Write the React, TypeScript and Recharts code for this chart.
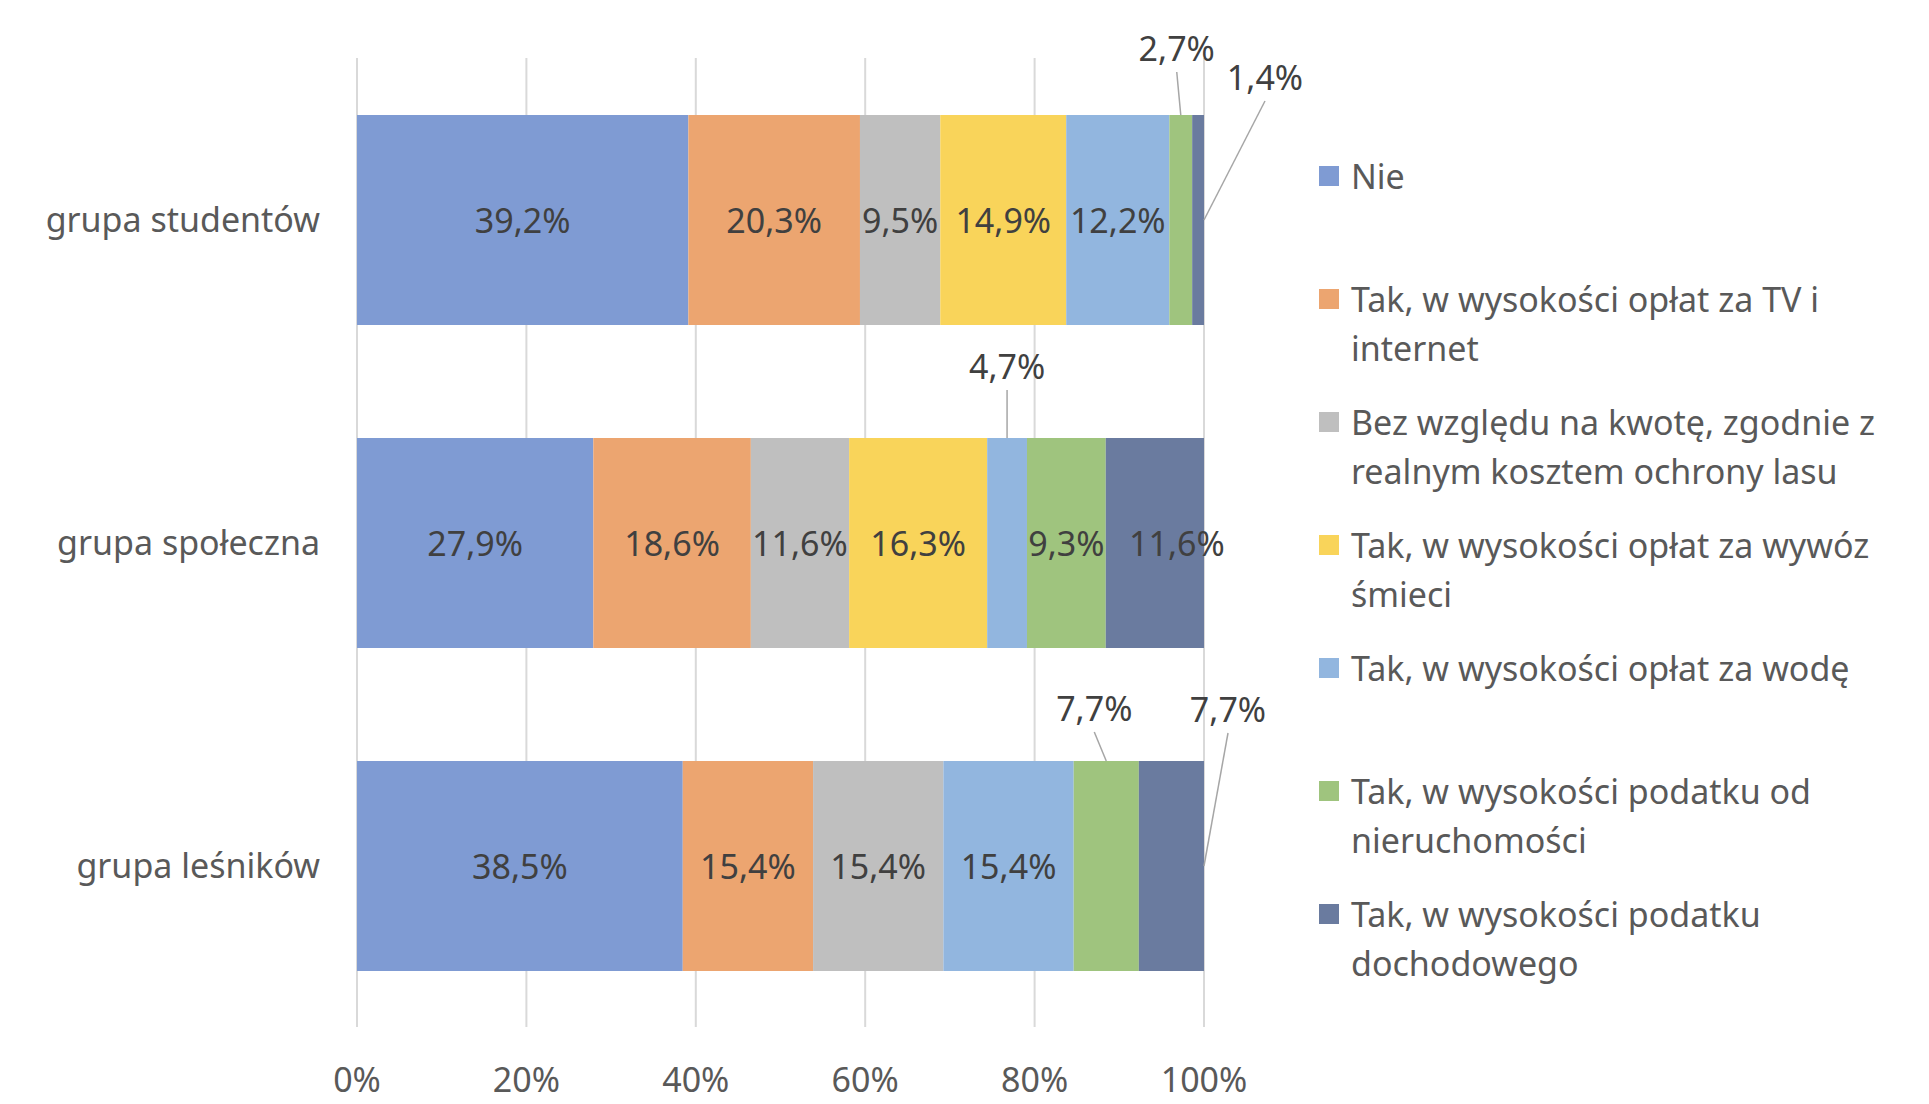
import { BarChart, Bar, XAxis, YAxis, CartesianGrid, LabelList, Legend } from 'recharts';

const groups = ['grupa studentów', 'grupa społeczna', 'grupa leśników'];

const seriesNames = [
  'Nie',
  'Tak, w wysokości opłat za TV i internet',
  'Bez względu na kwotę, zgodnie z realnym kosztem ochrony lasu',
  'Tak, w wysokości opłat za wywóz śmieci',
  'Tak, w wysokości opłat za wodę',
  'Tak, w wysokości podatku od nieruchomości',
  'Tak, w wysokości podatku dochodowego',
];

// values in %, per group (studenci, społeczna, leśnicy)
const nie = [39.2, 27.9, 38.5];
const tvInternet = [20.3, 18.6, 15.4];
const bezWzgledu = [9.5, 11.6, 15.4];
const wywozSmieci = [14.9, 16.3, 0];
const woda = [12.2, 4.7, 15.4];
const podatekNieruchomosci = [2.7, 9.3, 7.7];
const podatekDochodowy = [1.4, 11.6, 7.7];

const xTicks = [0, 0.2, 0.4, 0.6, 0.8, 1];

const COLORS = ['#7F9BD3', '#ECA570', '#BFBFBF', '#F9D45A', '#92B6DF', '#9FC47E', '#6A7B9F'];

const seriesValues = [nie, tvInternet, bezWzgledu, wywozSmieci, woda, podatekNieruchomosci, podatekDochodowy];

// labels pulled out of the bar with a leader line: key = series-group
const callouts: Record<string, { kind: 'top' | 'side'; dx: number; rise: number }> = {
  '5-0': { kind: 'top', dx: -4, rise: 67 },
  '6-0': { kind: 'side', dx: 61, rise: 143 },
  '4-1': { kind: 'top', dx: 0, rise: 72 },
  '5-2': { kind: 'top', dx: -12, rise: 53 },
  '6-2': { kind: 'side', dx: 24, rise: 157 },
};
// inside labels nudged sideways (Excel moved this one)
const insideShift: Record<string, number> = { '6-1': 22 };

const FONT = 'Noto Sans';
const FS = 34;

const data = groups.map((g, i) => {
  const row: Record<string, string | number> = { group: g };
  seriesValues.forEach((vals, s) => {
    row[`s${s}`] = vals[i];
  });
  return row;
});

const fmt = (v: number) => v.toFixed(1).replace('.', ',') + '%';

const makeLabel = (si: number) => (props: any) => {
  const x = Number(props.x);
  const y = Number(props.y);
  const width = Number(props.width);
  const height = Number(props.height);
  const index = props.index;
  const v = seriesValues[si][index];
  if (!v) return null;
  const key = `${si}-${index}`;
  const c = callouts[key];
  if (!c) {
    return (
      <text x={x + width / 2 + (insideShift[key] || 0)} y={y + height / 2} textAnchor="middle"
        dominantBaseline="central" fontFamily={FONT} fontSize={FS} fill="#404040">
        {fmt(v)}
      </text>
    );
  }
  const ax = c.kind === 'top' ? x + width / 2 : x + width;
  const ay = c.kind === 'top' ? y : y + height / 2;
  const lx = ax + c.dx;
  const ly = ay - c.rise;
  return (
    <g>
      <line x1={ax} y1={ay} x2={lx} y2={ly + 24} stroke="#A6A6A6" strokeWidth={1.5} />
      <text x={lx} y={ly} textAnchor="middle" dominantBaseline="central"
        fontFamily={FONT} fontSize={FS} fill="#404040">
        {fmt(v)}
      </text>
    </g>
  );
};

const renderLegend = () => (
  <div style={{ fontFamily: FONT, fontSize: FS, color: '#595959' }}>
    {seriesNames.map((name, i) => (
      <div key={name} style={{ height: 123, display: 'flex', alignItems: 'flex-start' }}>
        <div style={{ width: 20, height: 20, background: COLORS[i], marginTop: 14.5, marginRight: 12, flexShrink: 0 }} />
        <div style={{ lineHeight: '49px', width: 560 }}>{name}</div>
      </div>
    ))}
  </div>
);

export default function App() {
  return (
    <div style={{ margin: -8, width: 1929, height: 1104, overflow: 'hidden' }}>
      <BarChart
        width={1929}
        height={1104}
        data={data}
        layout="vertical"
        stackOffset="expand"
        barSize={210}
        margin={{ top: 58, right: 725, bottom: 0, left: 0 }}
      >
        <CartesianGrid horizontal={false} stroke="#D9D9D9" strokeWidth={2} />
        <XAxis
          type="number"
          domain={[0, 1]}
          ticks={xTicks}
          tickFormatter={(v: number) => `${Math.round(v * 100)}%`}
          axisLine={false}
          tickLine={false}
          tickSize={0}
          tickMargin={41}
          height={77}
          tick={{ fontFamily: FONT, fontSize: FS, fill: '#595959' }}
        />
        <YAxis
          type="category"
          dataKey="group"
          width={357}
          axisLine={false}
          tickLine={false}
          tickSize={0}
          tickMargin={37}
          tick={{ fontFamily: FONT, fontSize: FS, fill: '#595959' }}
        />
        <Legend
          layout="horizontal"
          verticalAlign="middle"
          align="center"
          content={renderLegend}
          wrapperStyle={{ left: 1319, top: 151.5, width: 600, height: 'auto' }}
        />
        {seriesNames.map((name, s) => (
          <Bar key={name} dataKey={`s${s}`} name={name} stackId="a" fill={COLORS[s]} isAnimationActive={false}>
            <LabelList dataKey={`s${s}`} content={makeLabel(s)} />
          </Bar>
        ))}
      </BarChart>
    </div>
  );
}
